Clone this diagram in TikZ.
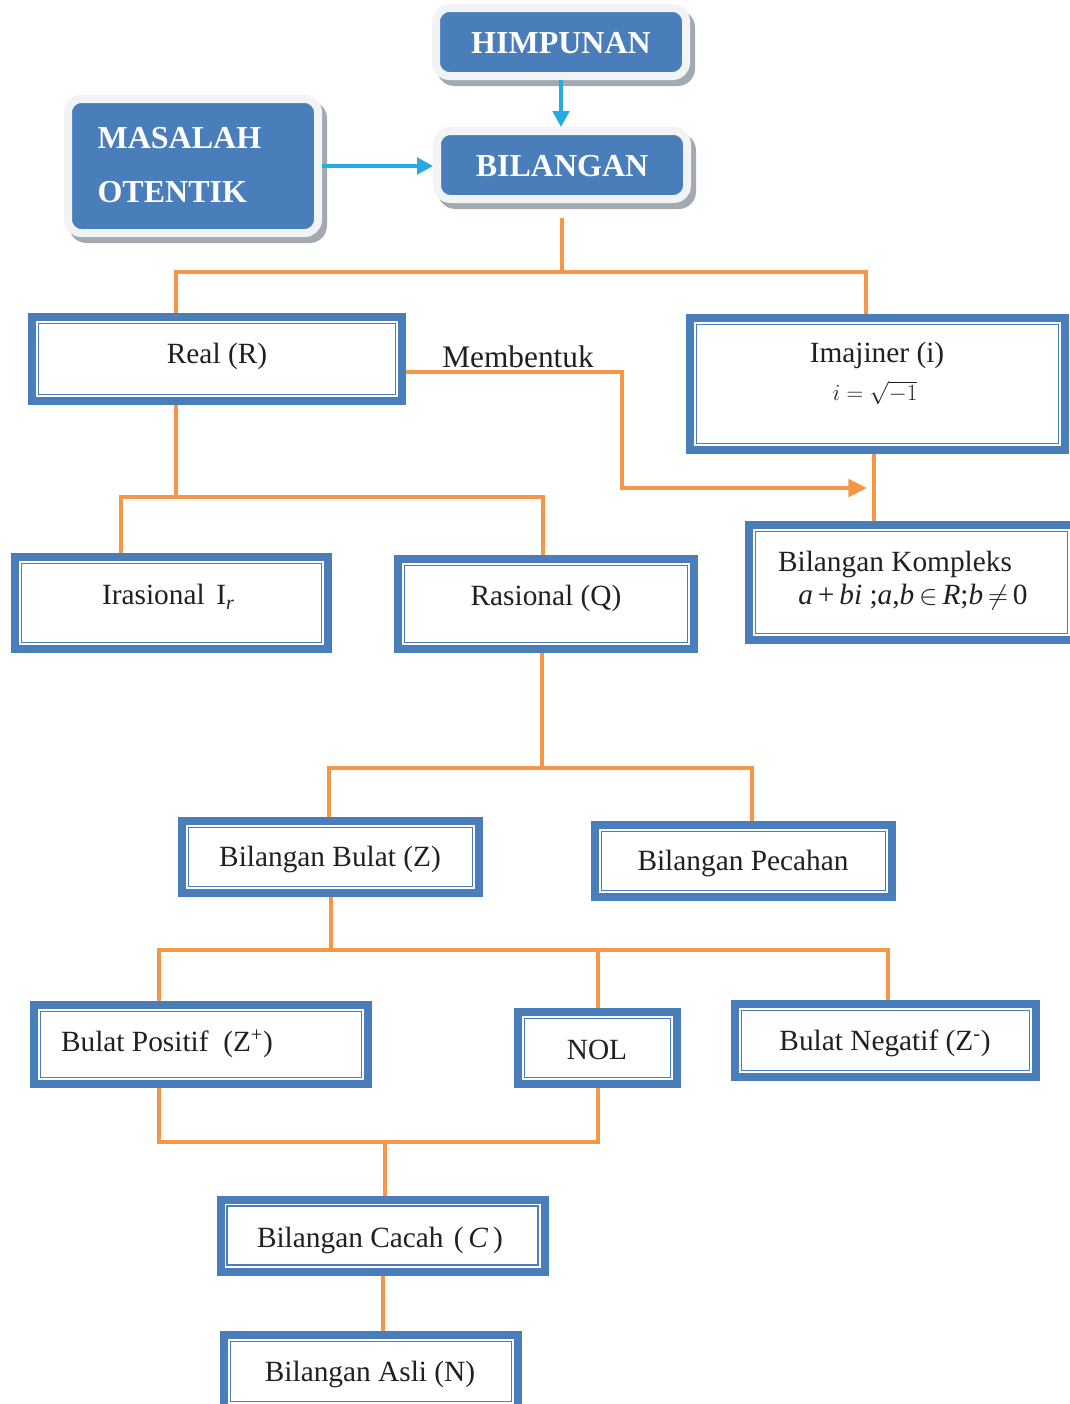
\documentclass[tikz,border=0pt]{standalone}
\usepackage{fontspec}
\setmainfont{Liberation Serif}
\usetikzlibrary{arrows.meta}
\definecolor{bblue}{HTML}{4A7EBB}
\definecolor{ora}{HTML}{F79646}
\definecolor{arr}{HTML}{27AAE1}
\definecolor{halo}{HTML}{F1F3F5}
\definecolor{shad}{HTML}{A2A9B1}
\definecolor{ink}{HTML}{231F20}
\tikzset{
 bx/.style={draw=bblue, line width=6pt, fill=white, inner sep=0pt, outer sep=3pt},
 thinb/.style={draw=bblue, line width=1.2pt},
 topbx/.style={fill=bblue, draw=halo, line width=6pt, rounded corners=10pt, inner sep=0pt, outer sep=3pt},
 tt/.style={text=ink, font=\fontsize{22}{26}\selectfont, inner sep=1pt},
 ttop/.style={text=white, font=\fontsize{24}{28}\selectfont\bfseries, inner sep=1pt},
 oline/.style={draw=ora, line width=3pt, line join=miter},
 bline/.style={draw=arr, line width=2.5pt, -{Triangle[length=12pt,width=12.5pt]}},
}
\newcommand\mkbox[5]{%
 \node[bx, minimum width=#4pt, minimum height=#5pt] (#1) at (#2,#3) {};
 \draw[thinb] ([shift={(8pt,-8pt)}]#1.north west) rectangle ([shift={(-8pt,8pt)}]#1.south east);
}
\begin{document}
\begin{tikzpicture}[x=0.75pt,y=-0.75pt]
\clip (0,0) rectangle (1070,1404);
\fill[white] (0,0) rectangle (1070,1404);
% top rounded boxes
\fill[shad, rounded corners=13pt] (437,10) rectangle (695,86);
\fill[shad, rounded corners=13pt] (438,133) rectangle (696,209);
\fill[shad, rounded corners=13pt] (69,101) rectangle (327,243);
\node[topbx, minimum width=187.5pt, minimum height=51pt] (him) at (561,42) {};
\node[topbx, minimum width=187.5pt, minimum height=51pt] (bil) at (562,165) {};
\node[topbx, minimum width=187.5pt, minimum height=100.5pt] (mas) at (193,166) {};
\node[ttop] (himt) at (561,43) {HIMPUNAN};
\node[ttop] (bilt) at (562,166) {BILANGAN};
\node[ttop, align=left, font=\fontsize{24}{41}\selectfont\bfseries, anchor=west] (mast) at (96,165) {MASALAH\\OTENTIK};
\draw[bline] (him.south) -- (him.south |- bil.north);
\draw[bline] (mas.east) -- (mas.east -| bil.west);
% framed boxes
\mkbox{real}{217}{359}{277.5}{63}
\mkbox{imaj}{877.5}{384}{281.25}{99}
\mkbox{kompl}{911.5}{582.5}{243.75}{86.25}
\mkbox{iras}{171.5}{603}{234.75}{69}
\mkbox{rasi}{546}{604}{222}{67.5}
\mkbox{bulat}{330.5}{857}{222.75}{54}
\mkbox{pecah}{743.5}{861}{222.75}{54}
\mkbox{posit}{201}{1044.5}{250.5}{59.25}
\mkbox{nol}{597.5}{1048}{119.25}{54}
\mkbox{negat}{885.5}{1040.5}{225.75}{54.75}
\mkbox{cacah}{382.5}{1235.5}{243}{54}
\mkbox{asli}{371}{1371.5}{220.5}{54.75}
% texts
\node[tt] (realt) at (217,356) {Real (R)};
\node[tt] (imajt) at (877,355) {Imajiner (i)};
\node[tt, inner sep=0pt, font=\fontsize{17}{20}\selectfont] (imajf) at (875,393) {$i=\sqrt{-1}$};
\node[tt, font=\fontsize{23.5}{28}\selectfont] (membt) at (518,357) {Membentuk};
\node[tt] (komplt) at (895,564) {Bilangan Kompleks};
\node[tt] (komplf) at (913,597) {\textit{a}\,+\,\textit{bi} ;\textit{a},\textit{b}\,$\in$\,\textit{R};\textit{b}\,$\neq$\,0};
\node[tt] (irast) at (168,597) {Irasional\hspace{0.4em}I\raisebox{-0.35ex}{\fontsize{15}{15}\selectfont\itshape r}};
\node[tt] (rasit) at (546,598) {Rasional (Q)};
\node[tt] (bulatt) at (330,859) {Bilangan Bulat (Z)};
\node[tt] (pecaht) at (743,863) {Bilangan Pecahan};
\node[tt] (positt) at (167,1044) {Bulat Positif\hspace{0.5em}(Z\textsuperscript{+})};
\node[tt] (nolt) at (597,1050) {NOL};
\node[tt] (negatt) at (885,1043) {Bulat Negatif (Z\textsuperscript{-})};
\node[tt] (cacaht) at (380,1240) {Bilangan Cacah\hspace{0.35em}(\,\textit{C}\,)};
\node[tt] (aslit) at (370,1374) {Bilangan Asli (N)};
% orange connectors
\draw[oline] (bil.south |- 0,218) -- (bil.south |- 0,272);
\draw[oline] (176,0 |- real.north) -- (176,272) -- (866,272) -- (866,0 |- imaj.north);
\coordinate (mend) at (867,488);
\draw[oline, -{Triangle[length=14pt,width=13pt]}] (real.east |- 0,372) -- (622,372) -- (622,488) -- (mend);
\draw[oline] (874,0 |- imaj.south) -- (874,0 |- kompl.north);
\draw[oline] (176,0 |- real.south) -- (176,497);
\draw[oline] (121,0 |- iras.north) -- (121,497) -- (543,497) -- (543,0 |- rasi.north);
\draw[oline] (542,0 |- rasi.south) -- (542,768);
\draw[oline] (329,0 |- bulat.north) -- (329,768) -- (752,768) -- (752,0 |- pecah.north);
\draw[oline] (331,0 |- bulat.south) -- (331,950);
\draw[oline] (159,0 |- posit.north) -- (159,950) -- (888,950) -- (888,0 |- negat.north);
\draw[oline] (598,950) -- (598,0 |- nol.north);
\draw[oline] (159,0 |- posit.south) -- (159,1142) -- (598,1142) -- (598,0 |- nol.south);
\draw[oline] (385,1142) -- (385,0 |- cacah.north);
\draw[oline] (383,0 |- cacah.south) -- (383,0 |- asli.north);
\end{tikzpicture}
\end{document}
